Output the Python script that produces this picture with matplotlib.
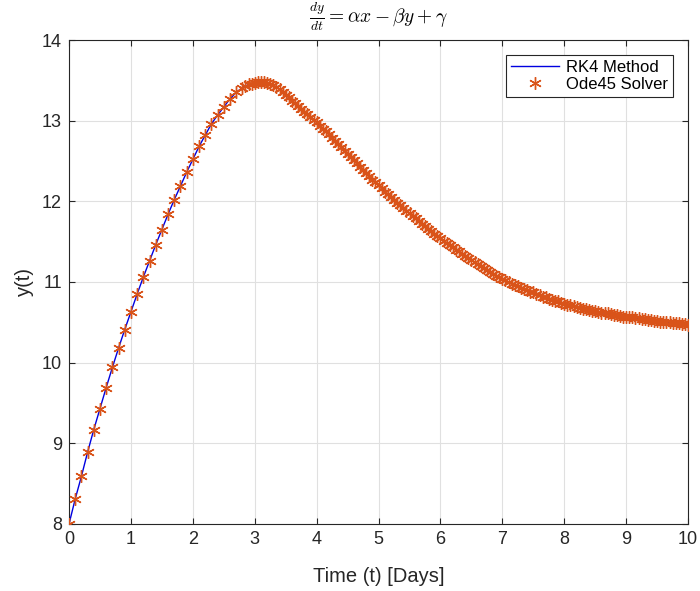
import numpy as np
import matplotlib.pyplot as plt

plt.rcParams['font.family'] = ['Liberation Sans', 'DejaVu Sans']
plt.rcParams['mathtext.fontset'] = 'cm'

# RK4 solution, step 0.1 days
t_rk4 = np.linspace(0, 10, 101)
y_rk4 = [8.00, 8.31, 8.59, 8.89, 9.17, 9.43, 9.69, 9.94, 10.18, 10.41,
         10.63, 10.85, 11.06, 11.26, 11.46, 11.65, 11.84, 12.02, 12.19, 12.36,
         12.52, 12.68, 12.82, 12.96, 13.07, 13.17, 13.27, 13.35, 13.41, 13.45,
         13.47, 13.48, 13.47, 13.44, 13.39, 13.32, 13.25, 13.18, 13.11, 13.05,
         12.98, 12.90, 12.83, 12.75, 12.67, 12.59, 12.51, 12.43, 12.35, 12.27,
         12.20, 12.12, 12.05, 11.98, 11.92, 11.85, 11.79, 11.72, 11.66, 11.60,
         11.54, 11.48, 11.43, 11.38, 11.32, 11.27, 11.22, 11.17, 11.12, 11.08,
         11.04, 11.00, 10.96, 10.93, 10.90, 10.87, 10.84, 10.81, 10.78, 10.76,
         10.73, 10.71, 10.69, 10.67, 10.65, 10.64, 10.62, 10.61, 10.59, 10.58,
         10.57, 10.56, 10.55, 10.54, 10.53, 10.52, 10.51, 10.50, 10.49, 10.48,
         10.47]

# ode45 output: coarse steps early, finer steps after ~2.8 days
t_ode = np.concatenate([np.linspace(0, 2.7, 28), np.linspace(2.8, 10, 145)])
y_ode = y_rk4[:28] + [
    13.41, 13.43, 13.45, 13.46, 13.47, 13.48, 13.48, 13.48, 13.47, 13.46,
    13.44, 13.42, 13.39, 13.36, 13.32, 13.29, 13.25, 13.22, 13.18, 13.15,
    13.11, 13.08, 13.05, 13.01, 12.98, 12.94, 12.90, 12.87, 12.83, 12.79,
    12.75, 12.71, 12.67, 12.63, 12.59, 12.55, 12.51, 12.47, 12.43, 12.39,
    12.35, 12.31, 12.27, 12.24, 12.20, 12.16, 12.12, 12.09, 12.05, 12.02,
    11.98, 11.95, 11.92, 11.88, 11.85, 11.82, 11.79, 11.75, 11.72, 11.69,
    11.66, 11.63, 11.60, 11.57, 11.54, 11.51, 11.48, 11.46, 11.43, 11.40,
    11.38, 11.35, 11.32, 11.30, 11.27, 11.25, 11.22, 11.20, 11.17, 11.15,
    11.12, 11.10, 11.08, 11.06, 11.04, 11.02, 11.00, 10.98, 10.96, 10.95,
    10.93, 10.91, 10.90, 10.88, 10.87, 10.85, 10.84, 10.82, 10.81, 10.79,
    10.78, 10.77, 10.76, 10.74, 10.73, 10.72, 10.71, 10.70, 10.69, 10.68,
    10.67, 10.66, 10.65, 10.64, 10.64, 10.63, 10.62, 10.61, 10.61, 10.60,
    10.59, 10.59, 10.58, 10.57, 10.57, 10.56, 10.56, 10.55, 10.55, 10.54,
    10.54, 10.53, 10.53, 10.52, 10.52, 10.51, 10.51, 10.50, 10.50, 10.49,
    10.49, 10.49, 10.48, 10.48, 10.47]

fig = plt.figure(figsize=(7, 5.91), dpi=100)
ax = fig.add_axes([0.0986, 0.1134, 0.8844, 0.8189])

ax.plot(t_rk4, y_rk4, color='#0000e0', lw=1.0, label='RK4 Method', zorder=3)
# MATLAB-style asterisk marker
ax.plot(t_ode, y_ode, ls='none', marker=(6, 2, 0), ms=9, mec='#D95319',
        mfc='#D95319', mew=1.0, label='Ode45 Solver', zorder=4)

ax.set_xlim(0, 10)
ax.set_ylim(8, 14)
ax.set_xticks(range(0, 11))
ax.set_yticks(range(8, 15))
ax.grid(True, color='#e0e0e0', lw=0.8)
ax.set_axisbelow(True)
ax.tick_params(direction='in', top=True, right=True, labelsize=13,
               colors='#262626', length=4, pad=5)
for s in ax.spines.values():
    s.set_color('#262626')
    s.set_linewidth(0.8)

ax.set_xlabel('Time (t) [Days]', fontsize=14.5, color='#262626', labelpad=14)
ax.set_ylabel('y(t)', fontsize=14.5, color='#262626', labelpad=6)
ax.set_title(r'$\frac{dy}{dt} = \alpha x - \beta y + \gamma$', fontsize=14, pad=12)

leg = ax.legend(loc='upper right', fontsize=12, fancybox=False, framealpha=1,
                edgecolor='#262626', borderpad=0.3, handlelength=2.9,
                labelspacing=0.1, borderaxespad=0.9, handletextpad=0.4)
leg.get_frame().set_linewidth(0.8)

fig.savefig('out.png', dpi=100)
